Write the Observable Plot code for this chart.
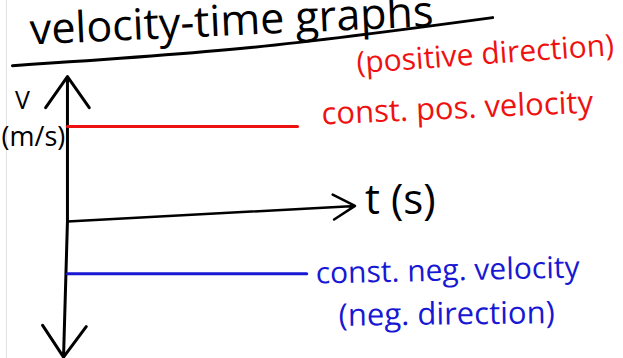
<!DOCTYPE html>
<html>
<head>
<meta charset="utf-8">
<script src="https://cdn.jsdelivr.net/npm/d3@7"></script>
<script src="https://cdn.jsdelivr.net/npm/@observablehq/plot@0.6"></script>
<style>
  html, body { margin: 0; padding: 0; background: #fff; }
  #chart {
    width: 623px; height: 358px; overflow: hidden;
    background: linear-gradient(to right, #fff 0, #fff 6px, #e2e2e2 6px, #e2e2e2 7px, #fff 7px);
  }
  #chart svg { display: block; background: transparent; }
</style>
</head>
<body>
<div id="chart"></div>
<script>
// Velocity–time sketch: two motions at constant velocity
const series = ["const. pos. velocity", "const. neg. velocity"];
const notes = ["(positive direction)", "(neg. direction)"];
const colors = ["#ee1111", "#1818d4"];
const tStart = [0, 0];          // s
const tEnd = [10, 10.4];        // s
const velocity = [2, -1.1];     // m/s

// hand-drawn axes, in the same units (t in s, v in m/s)
const timeAxisT = [0, 12.5];
const timeAxisV = [0, 0.33];    // the time axis drifts upward a little
const velAxisT = [0, -0.17];    // [top end, bottom end]
const velAxisV = [3.05, -2.85];

// sagging rule under the heading
const ruleT = [-2.39, 7.96, 18.48];
const ruleV = [3.28, 3.66, 4.29];

const heading = "velocity-time graphs";
const vName = "V";
const vUnit = "(m/s)";
const tLabel = "t (s)";

const rows = series.map((name, i) => ({
  name, note: notes[i], color: colors[i],
  t0: tStart[i], t1: tEnd[i], v: velocity[i]
}));
const rule = ruleT.map((t, i) => ({ t, v: ruleV[i] }));

const font = "'Open Sans', 'DejaVu Sans', sans-serif";

const chart = Plot.plot({
  width: 623,
  height: 358,
  margin: 0,
  x: { domain: [-2.91, 24.17], axis: null },
  y: { domain: [-2.88, 4.65], axis: null },
  color: { type: "identity" },
  style: { background: "transparent", fontFamily: font },
  marks: [
    // heading and its underline
    Plot.text([heading], {
      frameAnchor: "top-left", textAnchor: "start", lineAnchor: "bottom",
      dx: 30, dy: 44, rotate: -2.6, fontSize: 43, fill: "#000", ariaLabel: "heading"
    }),
    Plot.line(rule, {
      x: "t", y: "v", curve: "catmull-rom",
      stroke: "#000", strokeWidth: 3, strokeLinecap: "round"
    }),
    // velocity axis: arrowheads at both ends, drawn out from the origin
    Plot.arrow([0, 1], {
      x1: [0, 0], y1: [0, 0], x2: velAxisT, y2: velAxisV,
      stroke: "#000", strokeWidth: 3, headAngle: 70, headLength: 19
    }),
    // time axis
    Plot.arrow([0], {
      x1: [timeAxisT[0]], y1: [timeAxisV[0]], x2: [timeAxisT[1]], y2: [timeAxisV[1]],
      stroke: "#000", strokeWidth: 2.5, headAngle: 60, headLength: 15
    }),
    // constant velocity lines
    Plot.link(rows, {
      x1: "t0", x2: "t1", y1: "v", y2: "v",
      stroke: "color", strokeWidth: 3, strokeLinecap: "round"
    }),
    // axis labels
    Plot.text([vName], {
      x: [velAxisT[0]], y: [velAxisV[0]], dx: -45, dy: 24,
      fontSize: 25, fill: "#000", ariaLabel: "v-name"
    }),
    Plot.text([vUnit], {
      x: [velAxisT[0]], y: [velAxisV[0]], dx: -34, dy: 61,
      fontSize: 27, fill: "#000", ariaLabel: "v-unit"
    }),
    Plot.text([tLabel], {
      x: [timeAxisT[1]], y: [timeAxisV[1]], dx: 10, dy: -5, textAnchor: "start",
      fontSize: 42, fill: "#000", ariaLabel: "t-label"
    }),
    // series labels
    Plot.text([rows[0]], {
      x: "t1", y: "v", text: "name", fill: "color", textAnchor: "start",
      dx: 24, dy: -12, rotate: -2.5, fontSize: 31, ariaLabel: "pos-label"
    }),
    Plot.text([rows[0]], {
      x: "t1", y: "v", text: "note", fill: "color", textAnchor: "start",
      dx: 59, dy: -63, rotate: -4, fontSize: 30, ariaLabel: "pos-note"
    }),
    Plot.text([rows[1]], {
      x: "t1", y: "v", text: "name", fill: "color", textAnchor: "start",
      dx: 9, dy: 0, rotate: -1.3, fontSize: 30, ariaLabel: "neg-label"
    }),
    Plot.text([rows[1]], {
      x: "t1", y: "v", text: "note", fill: "color", textAnchor: "start",
      dx: 32, dy: 42, rotate: -0.7, fontSize: 31, ariaLabel: "neg-note"
    })
  ]
});

// stretch the lettering to its drawn widths
const widths = {
  "heading": 443, "v-name": 20, "v-unit": 55, "t-label": 72,
  "pos-label": 262, "pos-note": 258, "neg-label": 272, "neg-note": 226
};
for (const [label, w] of Object.entries(widths)) {
  d3.select(chart).selectAll(`g[aria-label="${label}"] text`)
    .attr("textLength", w)
    .attr("lengthAdjust", "spacingAndGlyphs");
}

document.getElementById("chart").appendChild(chart);
</script>
</body>
</html>
